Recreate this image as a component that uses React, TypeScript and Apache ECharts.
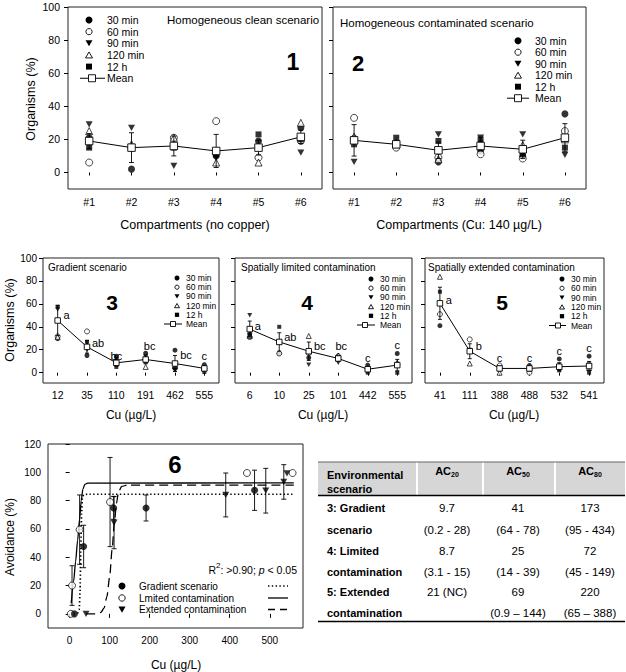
import React, { useEffect, useRef } from 'react';
import * as echarts from 'echarts';

const FONT = '"Liberation Sans", Arial, Helvetica, sans-serif';

// ---------- categories & ticks ----------
const compartments = ['#1', '#2', '#3', '#4', '#5', '#6'];
const cuGradient = ['12', '35', '110', '191', '462', '555'];
const cuLimited = ['6', '10', '25', '101', '442', '555'];
const cuExtended = ['41', '111', '388', '488', '532', '541'];
const timeNames = ['30 min', '60 min', '90 min', '120 min', '12 h'];
const organismTicks = [0, 20, 40, 60, 80, 100];
const avoidTicks = [0, 20, 40, 60, 80, 100, 120];
const cuTicks = [0, 100, 200, 300, 400, 500];

// ---------- panel 1: homogeneous clean ----------
const p1_30 = [21, 2, 16, 10, 19, 27];
const p1_60 = [6, 15, 21, 31, 9, 19];
const p1_90 = [29, 27, 4, 9, 15, 12];
const p1_120 = [25, 17, 21, 6, 6, 30];
const p1_12h = [15, 15, 15, 11, 23, 20];
const p1_mean = [19, 15, 16, 13, 15, 21.5];
const p1_err = [4.5, 9, 6, 10, 4.5, 4];

// ---------- panel 2: homogeneous contaminated ----------
const p2_30 = [20.6, 16.6, 6.4, 13, 10, 35.4];
const p2_60 = [33, 15, 9, 11, 8.4, 25];
const p2_90 = [6.4, 17, 23, 21, 23, 10.6];
const p2_120 = [21.6, 18, 8, 17.6, 16.6, 20];
const p2_12h = [17, 21, 19, 20, 11, 15];
const p2_mean = [19.4, 17, 13.4, 16, 14, 21];
const p2_err = [9.5, 2, 5, 3, 5.5, 8.5];

// ---------- panel 3: gradient ----------
const p3_30 = [29.7, 15, 14.4, 17, 19.6, 7];
const p3_60 = [31.7, 36, 8.6, 12, 4, 3.5];
const p3_90 = [55, 20, 12, 14, 2.3, 4];
const p3_120 = [31, 24, 8.6, 5, 5.8, 4];
const p3_12h = [57.6, 27, 5, 9, 4.3, 0.6];
const p3_mean = [45.5, 22.5, 8.6, 11.5, 8, 3.7];
const p3_err = [13, 5.5, 3, 3, 7, 2.5];
const letters3 = ['a', 'ab', 'bc', 'bc', 'bc', 'c'];
const letterY3 = [50, 26, 14.5, 23, 15, 14.5];

// ---------- panel 4: spatially limited ----------
const p4_30 = [34, 16.7, 13, 13, 6.6, 16.7];
const p4_60 = [31, 16.7, 17, 14.4, 3.5, 7.2];
const p4_90 = [50, 27, 7, 8.6, 2.3, 5.8];
const p4_120 = [32, 27, 32, 15, 3, 8.6];
const p4_12h = [32.6, 40, 18, 11.5, 0, 0];
const p4_mean = [38, 26.8, 18.7, 12.4, 3, 6.6];
const p4_err = [7, 8, 8, 2.5, 2, 5];
const letters4 = ['a', 'ab', 'bc', 'bc', 'c', 'c'];
const letterY4 = [41, 31, 23, 23, 13, 24.5];

// ---------- panel 5: spatially extended ----------
const p5_30 = [41, 19, 4, 6.3, 12, 14.4];
const p5_60 = [51, 29, 6.3, 0, 5.8, 7.2];
const p5_90 = [60, 19, 3, 3.5, 3.5, 3.5];
const p5_120 = [83.6, 8, 0, 3.5, 5, 4];
const p5_12h = [70.6, 20, 3, 3.5, 2, 0];
const p5_mean = [60.5, 18.7, 3.7, 3.7, 5.2, 5.8];
const p5_err = [14, 6.5, 2, 2, 3.5, 4];
const letters5 = ['a', 'b', 'c', 'c', 'c', 'c'];
const letterY5 = [63.5, 23, 13, 13, 18.7, 21.6];

// ---------- panel 6: avoidance ----------
const gradX = [12, 35, 110, 191, 462];
const gradY = [0, 47.6, 74.8, 74.8, 87.3];
const gradErr = [0, 15, 8, 9.2, 14.2];
const limX = [3, 6, 25, 101, 443, 557];
const limY = [0, 20, 59.5, 79, 99.5, 99.5];
const limErr = [0, 14, 24.5, 31.5, 0, 0];
const extX = [41, 111, 390, 490, 535, 543];
const extY = [0, 64.5, 84, 87, 93.2, 99.3];
const extErr = [0, 18.5, 15.5, 15.8, 12.2, 0];
const gradFitX = [10, 20, 24, 26, 28, 30, 32, 35, 45, 560];
const gradFitY = [0, 0.5, 3, 15, 45, 72, 82, 84.2, 84.5, 84.5];
const limFitX = [4, 10, 15, 20, 25, 29, 33, 38, 45, 560];
const limFitY = [7.5, 23, 37, 52, 67, 80, 88, 91.5, 92.4, 92.5];
const extFitX = [41, 65, 78, 86, 93, 100, 106, 112, 117, 122, 130, 145, 560];
const extFitY = [0, 0, 1, 4, 12, 26, 45, 65, 78, 86, 90, 91, 91];
const p6LegendNames = ['Gradient scenario', 'Lmited contamination', 'Extended contamination'];

// ---------- table ----------
const tableHead = ['Environmental', 'scenario'];
const acNames = ['20', '50', '80'];
const scenarioLines = [['3: Gradient', 'scenario'], ['4: Limited', 'contamination'], ['5: Extended', 'contamination']];
const ac20 = [['9.7', '(0.2 - 28)'], ['8.7', '(3.1 - 15)'], ['21 (NC)', '']];
const ac50 = [['41', '(64 - 78)'], ['25', '(14 - 39)'], ['69', '(0.9 \u2013 144)']];
const ac80 = [['173', '(95 - 434)'], ['72', '(45 - 149)'], ['220', '(65 \u2013 388)']];

// ---------- layout ----------
const GRIDS = [
  { left: 68, top: 7, width: 254, height: 182 },
  { left: 333, top: 7, width: 253, height: 182 },
  { left: 43, top: 258, width: 176, height: 125 },
  { left: 235, top: 258, width: 177, height: 125 },
  { left: 425, top: 258, width: 179, height: 125 },
  { left: 48, top: 444, width: 255, height: 184 },
];
const DOWN_TRI = 'path://M0,0L10,0L5,9Z';
const timeSymbols = [
  { symbol: 'circle', fill: '#000' },
  { symbol: 'circle', fill: '#fff' },
  { symbol: DOWN_TRI, fill: '#000' },
  { symbol: 'triangle', fill: '#fff' },
  { symbol: 'rect', fill: '#000' },
];
const letterDx = [
  [9, 11, 0, 4, 11, 0],
  [8, 11, 11, 3, 0, 0],
  [9, 9, 0, 0, 0, 0],
];

const catPanels = [
  { cats: compartments, times: [p1_30, p1_60, p1_90, p1_120, p1_12h], mean: p1_mean, err: p1_err, letters: null, letterY: null },
  { cats: compartments, times: [p2_30, p2_60, p2_90, p2_120, p2_12h], mean: p2_mean, err: p2_err, letters: null, letterY: null },
  { cats: cuGradient, times: [p3_30, p3_60, p3_90, p3_120, p3_12h], mean: p3_mean, err: p3_err, letters: letters3, letterY: letterY3 },
  { cats: cuLimited, times: [p4_30, p4_60, p4_90, p4_120, p4_12h], mean: p4_mean, err: p4_err, letters: letters4, letterY: letterY4 },
  { cats: cuExtended, times: [p5_30, p5_60, p5_90, p5_120, p5_12h], mean: p5_mean, err: p5_err, letters: letters5, letterY: letterY5 },
];
const catLook = [
  { sym: 7, cap: 2.5, fs: 10.5, showY: true, yMin: -10, mx: 8, my: 7 },
  { sym: 7, cap: 2.5, fs: 10.5, showY: false, yMin: -10, mx: 8, my: 7 },
  { sym: 5, cap: 2, fs: 10.5, showY: true, yMin: -9, mx: 6, my: 6 },
  { sym: 5, cap: 2, fs: 10.5, showY: false, yMin: -9, mx: 6, my: 6 },
  { sym: 5, cap: 2, fs: 10.5, showY: false, yMin: -9, mx: 6, my: 6 },
];

function errorSeries(gi: number, rows: number[][], cap: number, z: number) {
  return {
    type: 'custom',
    xAxisIndex: gi,
    yAxisIndex: gi,
    z,
    silent: true,
    data: rows.filter((r) => r[2] > 0).map((r) => [r[0], r[1] - r[2], r[1] + r[2]]),
    encode: { x: 0, y: [1, 2] },
    renderItem: (params: any, api: any) => {
      const lo = api.coord([api.value(0), api.value(1)]);
      const hi = api.coord([api.value(0), api.value(2)]);
      const style = { stroke: '#000', lineWidth: 0.9 };
      return {
        type: 'group',
        children: [
          { type: 'line', shape: { x1: lo[0], y1: lo[1], x2: hi[0], y2: hi[1] }, style },
          { type: 'line', shape: { x1: lo[0] - cap, y1: lo[1], x2: lo[0] + cap, y2: lo[1] }, style },
          { type: 'line', shape: { x1: hi[0] - cap, y1: hi[1], x2: hi[0] + cap, y2: hi[1] }, style },
        ],
      };
    },
  };
}

function letterSeries(gi: number, letters: string[], ys: number[], dxs: number[]) {
  return {
    type: 'custom',
    xAxisIndex: gi,
    yAxisIndex: gi,
    z: 5,
    silent: true,
    data: ys.map((y, k) => [k, y]),
    encode: { x: 0, y: 1 },
    renderItem: (params: any, api: any) => {
      const p = api.coord([api.value(0), api.value(1)]);
      return {
        type: 'text',
        x: p[0] + dxs[params.dataIndex],
        y: p[1],
        style: {
          text: letters[params.dataIndex],
          fill: '#000',
          fontSize: 11,
          fontFamily: FONT,
          align: 'center',
          verticalAlign: 'middle',
        },
      };
    },
  };
}

function T(x: number, y: number, text: string, size: number, o: any = {}) {
  return {
    type: 'text',
    x,
    y,
    rotation: o.rotation || 0,
    silent: true,
    z: 100,
    style: {
      text,
      fill: '#000',
      fontSize: size,
      fontFamily: FONT,
      fontWeight: o.weight || 'normal',
      align: o.align || 'left',
      verticalAlign: 'middle',
      rich: o.rich,
    },
  };
}

function legendEls(L: any) {
  const { x, y0, dy, tx, fs, s, m1, m2, ms } = L;
  const ys = [0, 1, 2, 3, 4, 5].map((k) => y0 + k * dy);
  const r = s / 2;
  const els: any[] = [
    { type: 'circle', shape: { cx: x, cy: ys[0], r }, style: { fill: '#000' } },
    { type: 'circle', shape: { cx: x, cy: ys[1], r: r - 0.4 }, style: { fill: '#fff', stroke: '#000', lineWidth: 0.9 } },
    { type: 'polygon', shape: { points: [[x - r, ys[2] - r * 0.85], [x + r, ys[2] - r * 0.85], [x, ys[2] + r * 0.85]] }, style: { fill: '#000' } },
    { type: 'polygon', shape: { points: [[x - r, ys[3] + r * 0.85], [x + r, ys[3] + r * 0.85], [x, ys[3] - r * 0.85]] }, style: { fill: '#fff', stroke: '#000', lineWidth: 0.9 } },
    { type: 'rect', shape: { x: x - r * 0.85, y: ys[4] - r * 0.85, width: r * 1.7, height: r * 1.7 }, style: { fill: '#000' } },
    { type: 'line', shape: { x1: m1, y1: ys[5], x2: m2, y2: ys[5] }, style: { stroke: '#000', lineWidth: 1 } },
    { type: 'rect', shape: { x: ms - r, y: ys[5] - r, width: 2 * r, height: 2 * r }, style: { fill: '#fff', stroke: '#000', lineWidth: 0.9 } },
  ];
  [...timeNames, 'Mean'].forEach((n, k) => els.push(T(tx, ys[k], n, fs)));
  return els.map((e) => ({ silent: true, z: 100, ...e }));
}

function buildOption() {
  const grid: any[] = GRIDS.map((g) => ({
    ...g,
    show: true,
    borderColor: '#222',
    borderWidth: 1,
    backgroundColor: 'transparent',
  }));
  const xAxis: any[] = [];
  const yAxis: any[] = [];
  const series: any[] = [];

  catPanels.forEach((p, i) => {
    const L = catLook[i];
    xAxis.push({
      type: 'category',
      gridIndex: i,
      data: p.cats,
      boundaryGap: true,
      axisLine: { show: false },
      axisTick: { show: true, alignWithLabel: true, interval: 0, length: 3, lineStyle: { color: '#000' } },
      axisLabel: { interval: 0, color: '#000', fontFamily: FONT, fontSize: L.fs, margin: L.my },
      splitLine: { show: false },
    });
    yAxis.push({
      type: 'value',
      gridIndex: i,
      min: L.yMin,
      max: 100,
      axisLine: { show: false },
      splitLine: { show: false },
      axisTick: { show: true, length: 4, customValues: organismTicks, lineStyle: { color: '#000' } },
      axisLabel: { show: L.showY, customValues: organismTicks, color: '#000', fontFamily: FONT, fontSize: i < 2 ? 10.5 : 10, margin: L.mx },
    });
    p.times.forEach((vals, t) => {
      const st = timeSymbols[t];
      series.push({
        type: 'scatter',
        name: timeNames[t],
        xAxisIndex: i,
        yAxisIndex: i,
        data: vals.map((v, k) => [k, v]),
        symbol: st.symbol,
        symbolSize: t === 4 ? L.sym - 1 : t === 2 ? [L.sym, L.sym * 0.9] : L.sym,
        itemStyle: { color: st.fill, borderColor: '#000', borderWidth: st.fill === '#fff' ? 0.9 : 0 },
        z: 2,
        silent: true,
      });
    });
    series.push(errorSeries(i, p.mean.map((m, k) => [k, m, p.err[k]]), L.cap, 3));
    series.push({
      type: 'line',
      name: 'Mean',
      xAxisIndex: i,
      yAxisIndex: i,
      data: p.mean.map((v, k) => [k, v]),
      symbol: 'rect',
      symbolSize: L.sym + 0.5,
      showSymbol: true,
      lineStyle: { color: '#000', width: 1 },
      itemStyle: { color: '#fff', borderColor: '#000', borderWidth: 0.9 },
      z: 4,
      silent: true,
    });
    if (p.letters) series.push(letterSeries(i, p.letters, p.letterY!, letterDx[i - 2]));
  });

  // panel 6
  xAxis.push({
    type: 'value',
    gridIndex: 5,
    min: -54,
    max: 583,
    axisLine: { show: false },
    splitLine: { show: false },
    axisTick: { show: true, length: 4, customValues: cuTicks, lineStyle: { color: '#000' } },
    axisLabel: { customValues: cuTicks, color: '#000', fontFamily: FONT, fontSize: 10, margin: 7 },
  });
  yAxis.push({
    type: 'value',
    gridIndex: 5,
    min: -10,
    max: 120,
    axisLine: { show: false },
    splitLine: { show: false },
    axisTick: { show: true, length: 4, customValues: avoidTicks, lineStyle: { color: '#000' } },
    axisLabel: { customValues: avoidTicks, color: '#000', fontFamily: FONT, fontSize: 10, margin: 7 },
  });
  const fit = (xs: number[], ys: number[], lineStyle: any) => ({
    type: 'line',
    xAxisIndex: 5,
    yAxisIndex: 5,
    data: xs.map((x, k) => [x, ys[k]]),
    symbol: 'none',
    smooth: 0.25,
    smoothMonotone: 'x',
    lineStyle: { color: '#000', ...lineStyle },
    z: 1,
    silent: true,
  });
  series.push(fit(gradFitX, gradFitY, { width: 1.7, type: [1.4, 2.4] }));
  series.push(fit(limFitX, limFitY, { width: 1.3, type: 'solid' }));
  series.push(fit(extFitX, extFitY, { width: 1.3, type: [9, 5] }));
  series.push(errorSeries(5, gradX.map((x, k) => [x, gradY[k], gradErr[k]]), 2.5, 2));
  series.push(errorSeries(5, limX.map((x, k) => [x, limY[k], limErr[k]]), 2.5, 2));
  series.push(errorSeries(5, extX.map((x, k) => [x, extY[k], extErr[k]]), 2.5, 2));
  const pts = (xs: number[], ys: number[], symbol: string, fill: string, size: any) => ({
    type: 'scatter',
    xAxisIndex: 5,
    yAxisIndex: 5,
    data: xs.map((x, k) => [x, ys[k]]),
    symbol,
    symbolSize: size,
    itemStyle: { color: fill, borderColor: '#000', borderWidth: fill === '#fff' ? 0.9 : 0 },
    z: 3,
    silent: true,
  });
  series.push(pts(limX, limY, 'circle', '#fff', 7));
  series.push(pts(gradX, gradY, 'circle', '#000', 7));
  series.push(pts(extX, extY, DOWN_TRI, '#000', [7, 6.3]));

  // ---------- graphic texts / legends / table ----------
  const g: any[] = [];
  g.push(T(31, 99, 'Organisms (%)', 12.5, { rotation: Math.PI / 2, align: 'center' }));
  g.push(T(10, 320, 'Organisms (%)', 12.5, { rotation: Math.PI / 2, align: 'center' }));
  g.push(T(10, 537, 'Avoidance (%)', 12, { rotation: Math.PI / 2, align: 'center' }));
  g.push(T(195, 225, 'Compartments (no copper)', 12.5, { align: 'center' }));
  g.push(T(459, 225, 'Compartments (Cu: 140 \u00b5g/L)', 12.5, { align: 'center' }));
  g.push(T(131, 415, 'Cu (\u00b5g/L)', 12, { align: 'center' }));
  g.push(T(323, 415, 'Cu (\u00b5g/L)', 12, { align: 'center' }));
  g.push(T(514, 415, 'Cu (\u00b5g/L)', 12, { align: 'center' }));
  g.push(T(176, 665, 'Cu (\u00b5g/L)', 12, { align: 'center' }));
  g.push(T(167, 20, 'Homogeneous clean scenario', 11.5));
  g.push(T(340, 22.5, 'Homogeneous contaminated scenario', 11.5));
  g.push(T(48, 267, 'Gradient scenario', 10));
  g.push(T(241, 267, 'Spatially limited contamination', 10));
  g.push(T(428, 267, 'Spatially extended contamination', 10));
  g.push(T(293, 62, '1', 23, { weight: 'bold', align: 'center' }));
  g.push(T(358, 63, '2', 22, { weight: 'bold', align: 'center' }));
  g.push(T(112, 302, '3', 21, { weight: 'bold', align: 'center' }));
  g.push(T(307, 302, '4', 21, { weight: 'bold', align: 'center' }));
  g.push(T(502, 302, '5', 21, { weight: 'bold', align: 'center' }));
  g.push(T(175, 464, '6', 24, { weight: 'bold', align: 'center' }));
  g.push(...legendEls({ x: 89, y0: 20, dy: 11.65, tx: 107, fs: 10.5, s: 7, m1: 80, m2: 105, ms: 92 }));
  g.push(...legendEls({ x: 518, y0: 40.7, dy: 11.5, tx: 535, fs: 10.5, s: 7, m1: 507, m2: 529, ms: 518 }));
  g.push(...legendEls({ x: 177, y0: 278, dy: 9.2, tx: 186, fs: 8.5, s: 5, m1: 164, m2: 182, ms: 173 }));
  g.push(...legendEls({ x: 371, y0: 279, dy: 9.2, tx: 380, fs: 8.5, s: 5, m1: 357, m2: 375, ms: 365 }));
  g.push(...legendEls({ x: 562, y0: 279, dy: 9.3, tx: 571, fs: 8.5, s: 5, m1: 549, m2: 566, ms: 558 }));
  const ly = [586, 598, 609.5];
  g.push({ type: 'circle', silent: true, z: 100, shape: { cx: 122, cy: ly[0], r: 3.5 }, style: { fill: '#000' } });
  g.push({ type: 'circle', silent: true, z: 100, shape: { cx: 122, cy: ly[1], r: 3.2 }, style: { fill: '#fff', stroke: '#000', lineWidth: 0.9 } });
  g.push({ type: 'polygon', silent: true, z: 100, shape: { points: [[118.5, ly[2] - 3], [125.5, ly[2] - 3], [122, ly[2] + 3.3]] }, style: { fill: '#000' } });
  p6LegendNames.forEach((n, k) => g.push(T(139, ly[k], n, 10)));
  g.push({ type: 'line', silent: true, z: 100, shape: { x1: 268, y1: ly[0], x2: 288, y2: ly[0] }, style: { stroke: '#000', lineWidth: 1.7, lineDash: [1.4, 2.4] } });
  g.push({ type: 'line', silent: true, z: 100, shape: { x1: 268, y1: ly[1], x2: 288, y2: ly[1] }, style: { stroke: '#000', lineWidth: 1.3 } });
  g.push({ type: 'line', silent: true, z: 100, shape: { x1: 268, y1: ly[2], x2: 288, y2: ly[2] }, style: { stroke: '#000', lineWidth: 1.3, lineDash: [7, 5] } });
  g.push(
    T(297, 568, '{n|R}{sup|2}{n|: >0.90; }{i|p}{n| < 0.05}', 10.5, {
      align: 'right',
      rich: {
        n: { fontSize: 10.5, fontFamily: FONT, fill: '#000', lineHeight: 14, verticalAlign: 'bottom' },
        sup: { fontSize: 8, fontFamily: FONT, fill: '#000', lineHeight: 14, verticalAlign: 'top' },
        i: { fontSize: 10.5, fontFamily: FONT, fontStyle: 'italic', fill: '#000', lineHeight: 14, verticalAlign: 'bottom' },
      },
    })
  );

  const tL = 318, tR = 625, hTop = 462, hBot = 495, tBot = 621.5;
  const colSep = [417, 483, 555];
  const colC = [447, 518, 590];
  g.push({ type: 'rect', silent: true, z: 90, shape: { x: tL, y: hTop, width: tR - tL, height: hBot - hTop }, style: { fill: '#d6d6d6' } });
  colSep.forEach((x) => g.push({ type: 'line', silent: true, z: 91, shape: { x1: x, y1: hTop, x2: x, y2: hBot }, style: { stroke: '#fff', lineWidth: 2 } }));
  g.push({ type: 'line', silent: true, z: 92, shape: { x1: tL, y1: hTop, x2: tR, y2: hTop }, style: { stroke: '#666', lineWidth: 1 } });
  g.push({ type: 'line', silent: true, z: 92, shape: { x1: tL, y1: hBot + 0.5, x2: tR, y2: hBot + 0.5 }, style: { stroke: '#000', lineWidth: 1.5 } });
  g.push({ type: 'line', silent: true, z: 92, shape: { x1: tL, y1: tBot, x2: tR, y2: tBot }, style: { stroke: '#000', lineWidth: 1.5 } });
  g.push(T(327, 475, tableHead[0], 11, { weight: 'bold' }));
  g.push(T(327, 488.5, tableHead[1], 11, { weight: 'bold' }));
  acNames.forEach((s, k) =>
    g.push(
      T(colC[k], 471, `{m|AC}{s|${s}}`, 11, {
        align: 'center',
        rich: {
          m: { fontSize: 11, fontWeight: 'bold', fontFamily: FONT, fill: '#000', lineHeight: 14, verticalAlign: 'middle' },
          s: { fontSize: 7, fontWeight: 'bold', fontFamily: FONT, fill: '#000', lineHeight: 14, verticalAlign: 'bottom' },
        },
      })
    )
  );
  const rowY = [508.3, 530, 550.5, 571.7, 592.3, 613.3];
  const cols = [ac20, ac50, ac80];
  scenarioLines.forEach((lines, r) => {
    lines.forEach((line, j) => {
      const y = rowY[r * 2 + j];
      g.push(T(327, y, line, 11, { weight: 'bold' }));
      cols.forEach((col, c) => {
        if (col[r][j]) g.push(T(colC[c], y, col[r][j], 11.5, { align: 'center' }));
      });
    });
  });

  return {
    animation: false,
    backgroundColor: '#fff',
    grid,
    xAxis,
    yAxis,
    series,
    graphic: { elements: g },
  };
}

export default function App() {
  const ref = useRef<HTMLDivElement>(null);
  useEffect(() => {
    const chart = echarts.init(ref.current!, null, { renderer: 'svg' });
    chart.setOption(buildOption() as any);
    return () => chart.dispose();
  }, []);
  return (
    <div
      ref={ref}
      style={{ position: 'fixed', left: 0, top: 0, width: 626, height: 672, background: '#fff' }}
    />
  );
}
